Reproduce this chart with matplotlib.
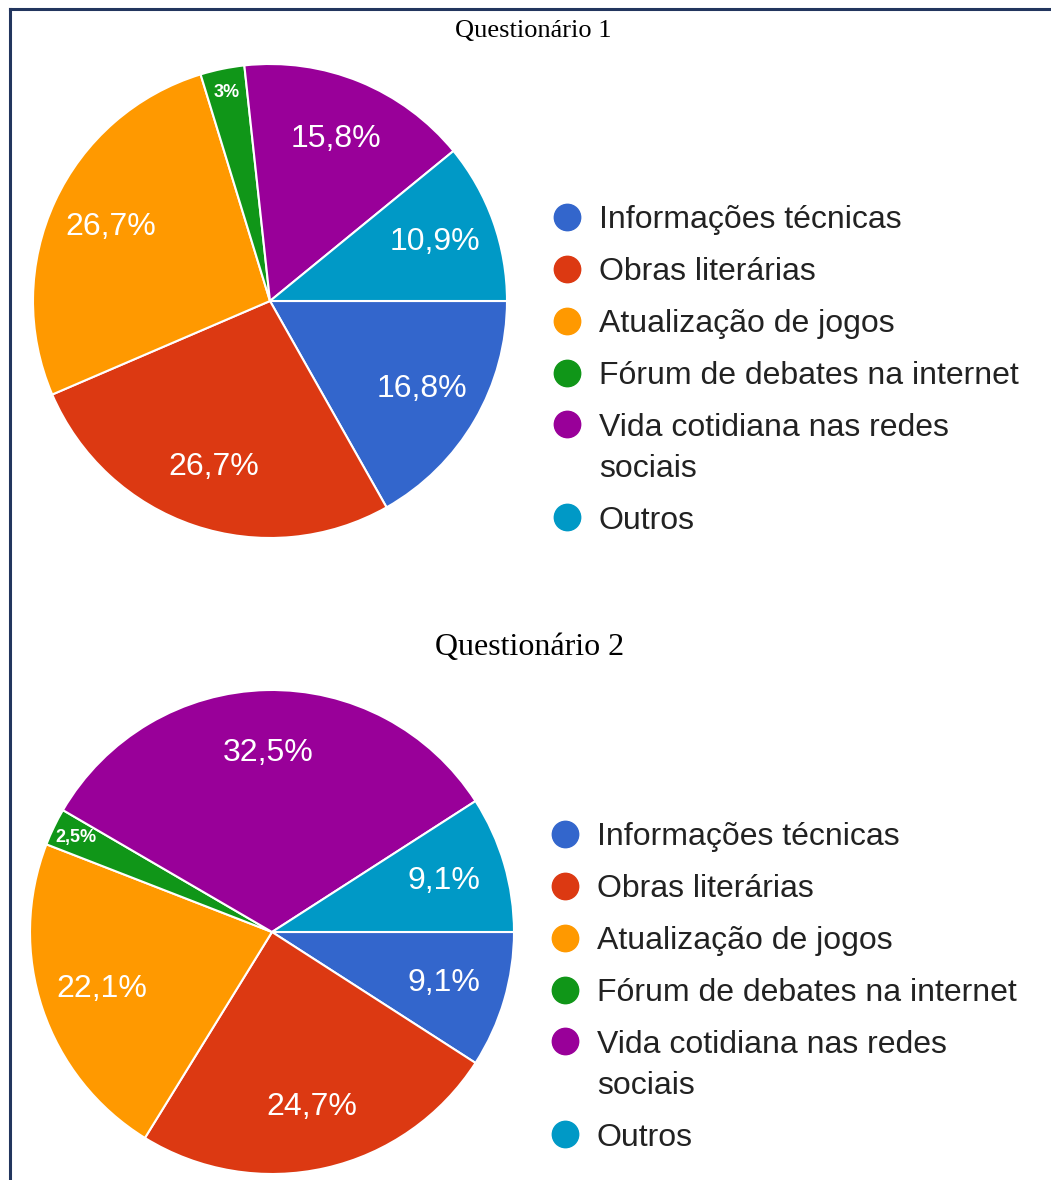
import matplotlib
matplotlib.use("Agg")
import matplotlib.pyplot as plt
from matplotlib.lines import Line2D
import numpy as np

W, H = 1051, 1180

categories = ["Informações técnicas", "Obras literárias", "Atualização de jogos",
              "Fórum de debates na internet", "Vida cotidiana nas redes\nsociais", "Outros"]
q1_values = [16.8, 26.7, 26.7, 3.0, 15.8, 10.9]
q2_values = [9.1, 24.7, 22.1, 2.5, 32.5, 9.1]
titles = ["Questionário 1", "Questionário 2"]
colors = ["#3366CC", "#DC3912", "#FF9900", "#109618", "#990099", "#0099C6"]

plt.rcParams['font.family'] = ['Liberation Sans', 'DejaVu Sans']

fig = plt.figure(figsize=(W / 100, H / 100), dpi=100)


def fx(x):
    return x / W


def fy(y):
    return 1 - y / H


def fmt(v):
    s = f"{v:.1f}".replace(".", ",")
    if s.endswith(",0"):
        s = s[:-2]
    return s + "%"


def draw_pie(values, cx, cy, r, legend_xy):
    ax = fig.add_axes([fx(cx - r), fy(cy + r), 2 * r / W, 2 * r / H])
    wedges, _ = ax.pie(values, colors=colors, startangle=0, counterclock=False,
                       radius=1, wedgeprops=dict(edgecolor="white", linewidth=1.5))
    ax.set_xlim(-1, 1)
    ax.set_ylim(-1, 1)
    ax.set_aspect("equal")
    ax.axis("off")
    for w, v in zip(wedges, values):
        mid = np.deg2rad((w.theta1 + w.theta2) / 2)
        small = v < 5
        d = 0.90 if small else 0.74
        ax.text(d * np.cos(mid), d * np.sin(mid), fmt(v), ha="center", va="center",
                color="white", fontsize=13 if small else 23,
                fontweight="bold" if small else "normal")
    handles = [Line2D([0], [0], marker="o", linestyle="", markersize=19,
                      markerfacecolor=c, markeredgecolor=c) for c in colors]
    leg = fig.legend(handles, categories, loc="upper left",
                     bbox_to_anchor=(fx(legend_xy[0]), fy(legend_xy[1])),
                     frameon=False, fontsize=23, handlelength=1.0, handletextpad=0.5,
                     labelspacing=0.69, borderpad=0, borderaxespad=0)
    for t in leg.get_texts():
        t.set_color("#222222")
        t.set_linespacing(1.45)
    # align the marker of the two-line entry with its first line
    for h, lab in zip(leg.legend_handles, categories):
        if "\n" in lab:
            h.set_ydata(np.asarray(h.get_ydata(), dtype=float) + 18.0)
    return ax


draw_pie(q1_values, 270, 301, 237, (551, 205))
draw_pie(q2_values, 272, 932, 242, (549, 822))

fig.text(fx(533), fy(31), titles[0], ha="center", va="center",
         fontsize=19, family=["Liberation Serif", "DejaVu Serif"], color="black")
fig.text(fx(530), fy(647), titles[1], ha="center", va="center",
         fontsize=23, family=["Liberation Serif", "DejaVu Serif"], color="black")

# Border lines (top and left)
border = "#22355E"
fig.add_artist(Line2D([fx(10), 1], [fy(9), fy(9)], color=border, linewidth=2.2))
fig.add_artist(Line2D([fx(10), fx(10)], [fy(9), 0], color=border, linewidth=2.2))

fig.savefig("out.png", dpi=100)
